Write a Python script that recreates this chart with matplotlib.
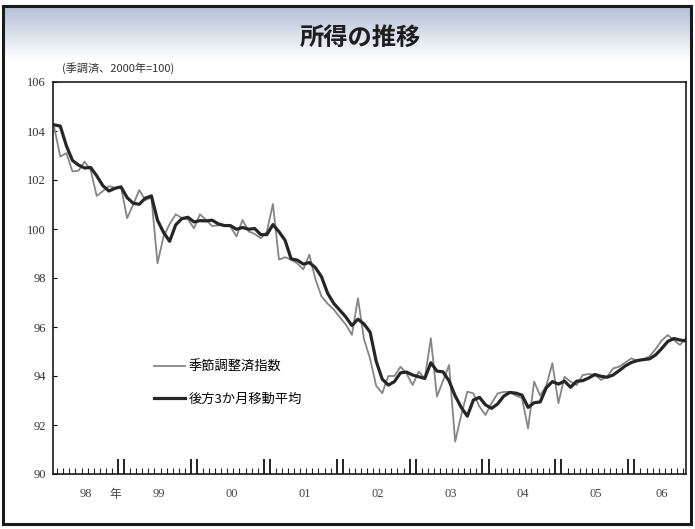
import numpy as np
import matplotlib
matplotlib.use("Agg")
import matplotlib.pyplot as plt  # noqa: E402
from matplotlib.colors import LinearSegmentedColormap  # noqa: E402
from matplotlib.lines import Line2D  # noqa: E402
from matplotlib.patches import Rectangle  # noqa: E402
import matplotlib.transforms as mtransforms  # noqa: E402

JP = ["Noto Sans CJK JP", "DejaVu Sans"]
SERIF = ["Liberation Serif", "DejaVu Serif"]

TITLE = "所得の推移"
SUBTITLE = "(季調済、2000年=100)"
series_labels = ["季節調整済指数", "後方3か月移動平均"]

# monthly, Jan 1998 .. Sep 2006
raw_index = [
    104.15, 102.95, 103.10, 102.35, 102.38, 102.75, 102.40, 101.35, 101.55, 101.75, 101.68, 101.72,  # 98
    100.44, 101.00, 101.59, 101.18, 101.29, 98.60, 99.70, 100.20, 100.60, 100.45, 100.40, 100.03,    # 99
    100.60, 100.37, 100.12, 100.15, 100.16, 100.10, 99.70, 100.37, 99.90, 99.80, 99.62, 99.89,       # 00
    101.02, 98.75, 98.85, 98.75, 98.60, 98.35, 98.95, 97.95, 97.25, 96.95, 96.72, 96.40,             # 01
    96.10, 95.68, 97.17, 95.50, 94.70, 93.60, 93.30, 94.00, 94.00, 94.38, 94.10, 93.63,              # 02
    94.18, 93.90, 95.54, 93.16, 93.80, 94.45, 91.32, 92.40, 93.36, 93.29, 92.75, 92.41,              # 03
    92.89, 93.29, 93.35, 93.35, 93.20, 93.10, 91.86, 93.77, 93.20, 93.60, 94.52, 92.89,              # 04
    93.97, 93.77, 93.63, 94.04, 94.08, 94.05, 93.84, 93.97, 94.31, 94.38, 94.55, 94.72,              # 05
    94.62, 94.68, 94.80, 95.10, 95.45, 95.67, 95.47, 95.27, 95.54,                                   # 06
]
moving_avg = [
    104.25, 104.20, 103.40, 102.80, 102.61, 102.49, 102.51, 102.17, 101.77, 101.55, 101.66, 101.72,
    101.28, 101.05, 101.01, 101.26, 101.35, 100.36, 99.86, 99.50, 100.17, 100.42, 100.48, 100.29,
    100.34, 100.33, 100.36, 100.21, 100.14, 100.14, 99.99, 100.06, 99.99, 100.02, 99.77, 99.77,
    100.18, 99.89, 99.54, 98.78, 98.73, 98.57, 98.63, 98.42, 98.05, 97.38, 96.97, 96.69,
    96.41, 96.06, 96.32, 96.12, 95.79, 94.60, 93.87, 93.63, 93.77, 94.13, 94.16, 94.04,
    93.97, 93.90, 94.54, 94.20, 94.17, 93.80, 93.19, 92.72, 92.36, 93.02, 93.13, 92.82,
    92.68, 92.86, 93.18, 93.33, 93.30, 93.22, 92.72, 92.91, 92.94, 93.52, 93.77, 93.67,
    93.79, 93.54, 93.79, 93.81, 93.92, 94.06, 93.99, 93.95, 94.04, 94.22, 94.41, 94.55,
    94.63, 94.67, 94.70, 94.86, 95.12, 95.41, 95.53, 95.47, 95.43,
]
year_labels = ["98", "99", "00", "01", "02", "03", "04", "05", "06"]
y_ticks = [90, 92, 94, 96, 98, 100, 102, 104, 106]

W, H = 695, 529
months = np.arange(len(raw_index))

fig = plt.figure(figsize=(W / 100, H / 100), dpi=100)
fig.patch.set_facecolor("white")

# header band: blue-grey fading to white
bax = fig.add_axes([5 / W, 1 - 60 / H, 685 / W, 52 / H])
cmap = LinearSegmentedColormap.from_list("band", ["#b6c2d9", "#d9e0ec", "#ffffff"])
bax.imshow(np.linspace(0, 1, 64)[:, None], aspect="auto", cmap=cmap,
           extent=[0, 1, 0, 1], origin="upper")
bax.set_axis_off()
fig.text(360 / W, 1 - 38 / H, TITLE, family=JP, fontsize=17.5, fontweight="bold",
         color="#1e1e1e", ha="center", va="center")
fig.text(62 / W, 1 - 68 / H, SUBTITLE, family=JP, fontsize=8, color="#333",
         ha="left", va="center")

# outer frame
fig.patches.append(Rectangle((3 / W, 1 - 524 / H), 688 / W, 518 / H, fill=False,
                             lw=2.2, ec="#1a1a1a", transform=fig.transFigure))

ax = fig.add_axes([53 / W, 55 / H, 633 / W, 392 / H])
ax.plot(months, raw_index, color="#858585", lw=1.3, zorder=2)
ax.plot(months, moving_avg, color="#262626", lw=2.3, zorder=3)
ax.set_xlim(-0.2, 104)
ax.set_ylim(90, 106)

ax.set_yticks(y_ticks)
ax.set_yticklabels([str(v) for v in y_ticks], family=SERIF, fontsize=9, color="#333")
ax.tick_params(axis="y", direction="in", length=3, width=0.8, pad=5)

# month ticks on the bottom axis, two tall ones at each year change
month_edges = np.arange(0.5, 104, 1.0)
year_edges = [e for y in range(1, 9) for e in (12 * y - 1.5, 12 * y - 0.5)]
ax.set_xticks(year_edges)
ax.set_xticks(month_edges, minor=True)
ax.set_xticklabels([])
ax.tick_params(axis="x", which="major", direction="in", length=11, width=1.4, color="#222")
ax.tick_params(axis="x", which="minor", direction="in", length=4, width=0.8, color="#222")
ax.tick_params(top=False, right=False)

for sp in ax.spines.values():
    sp.set_linewidth(1.2)
    sp.set_color("#1a1a1a")

trans = mtransforms.blended_transform_factory(ax.transData, ax.transAxes)
label_pos = [5.2 + 12 * k for k in range(8)] + [100]
for xpos, lbl in zip(label_pos, year_labels):
    ax.text(xpos, -0.052, lbl, transform=trans, ha="center", va="center",
            family=SERIF, fontsize=9, color="#444")
ax.text(10.0, -0.052, "年", transform=trans, ha="center", va="center",
        family=JP, fontsize=8.5, color="#444")

handles = [Line2D([], [], color="#858585", lw=1.3),
           Line2D([], [], color="#262626", lw=2.3)]
ax.legend(handles, series_labels, loc="upper left", bbox_to_anchor=(0.16, 0.29),
          frameon=False, handlelength=2.3, handletextpad=0.3, labelspacing=1.45,
          borderpad=0, borderaxespad=0, prop={"family": JP, "size": 9.5})

fig.savefig("out.png", dpi=100)
